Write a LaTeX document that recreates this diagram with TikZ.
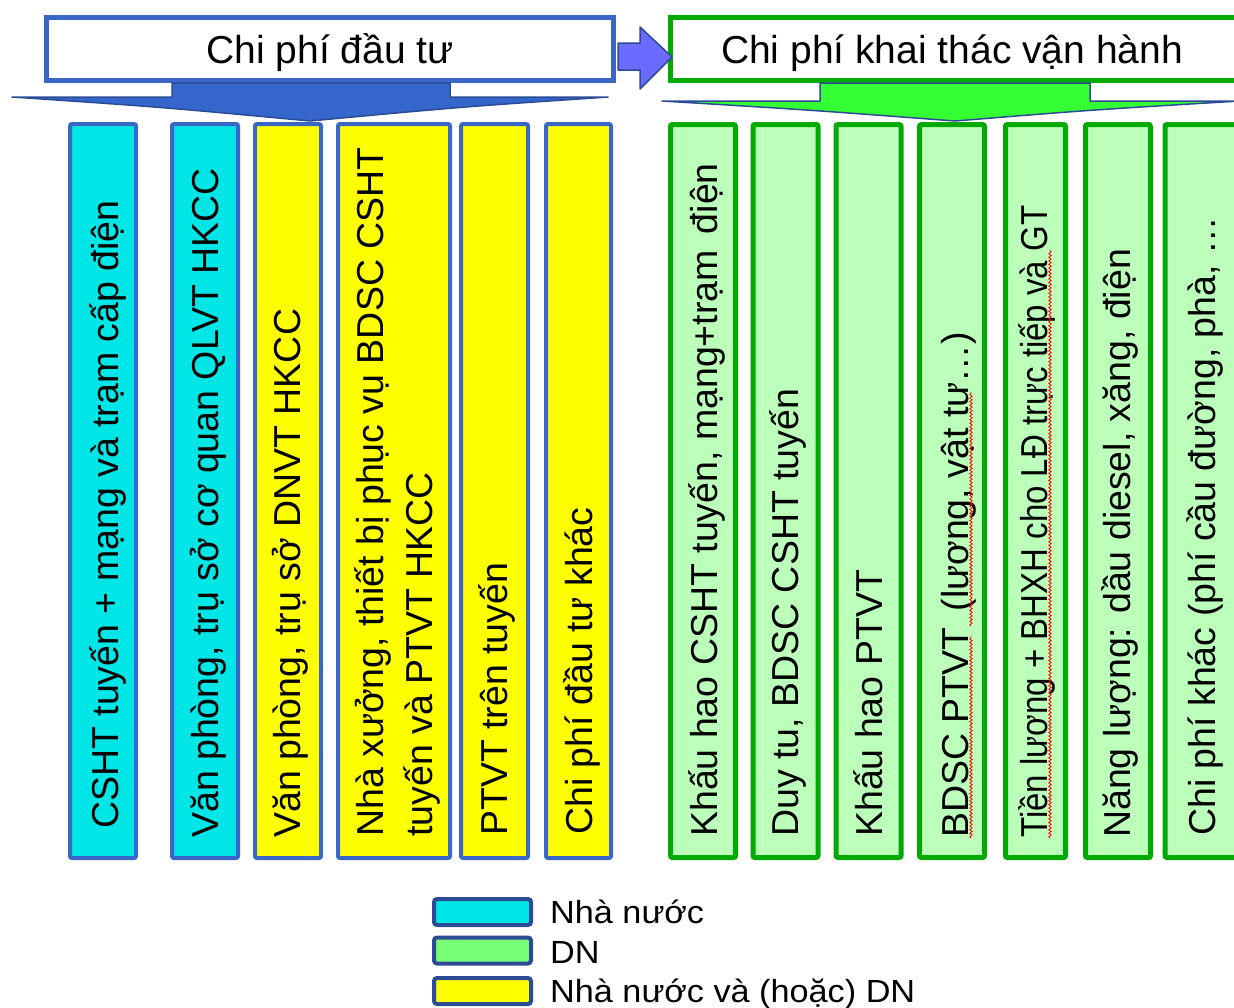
\documentclass[tikz,border=0pt]{standalone}
\usepackage{fontspec}
\setmainfont{Liberation Sans}
\usetikzlibrary{decorations.pathmorphing}

\definecolor{edgeblue}{RGB}{58,102,200}
\definecolor{edgegreen}{RGB}{0,170,0}
\definecolor{fillcyan}{RGB}{0,229,229}
\definecolor{fillyellow}{RGB}{255,255,0}
\definecolor{palegreen}{RGB}{187,255,187}
\definecolor{shaftgreen}{RGB}{51,255,51}
\definecolor{deepblue}{RGB}{43,76,148}
\definecolor{arrowblue}{RGB}{52,102,204}
\definecolor{arrowviolet}{RGB}{107,107,255}
\definecolor{keygreen}{RGB}{119,255,119}

\begin{document}
\begin{tikzpicture}[x=1pt,y=-1pt,
  colbase/.style={draw, rounded corners=2pt, inner sep=0pt},
  leftcol/.style={colbase, draw=edgeblue, line width=4pt, minimum width=66, minimum height=734},
  rightcol/.style={colbase, draw=edgegreen, fill=palegreen, line width=5pt, minimum width=65, minimum height=733},
  coltext/.style={rotate=90, anchor=base west, inner sep=0pt, align=left,
                  font=\fontsize{37.5}{49}\selectfont},
  headbox/.style={draw, fill=white, line width=5pt, minimum width=567, minimum height=63, inner sep=0pt},
  headtext/.style={anchor=base, inner sep=0pt, font=\fontsize{39}{45}\selectfont},
  wingline/.style={draw=deepblue, line width=1.5pt, line join=round},
  keybox/.style={draw=deepblue, line width=4pt, rounded corners=3pt, minimum width=97, minimum height=26, inner sep=0pt},
  keytext/.style={anchor=base west, inner sep=0pt, font=\fontsize{32}{36}\selectfont},
  spell/.style={draw=red, line width=0.8pt, decorate,
                decoration={snake, amplitude=1.2pt, segment length=3.6pt}}
]
\useasboundingbox (0,0) rectangle (1234,1007);
\clip (0,0) rectangle (1234,1007);

% ---------- investment cost columns ----------
\node[leftcol, fill=fillcyan]   (c1) at (103,491)   {};
\node[leftcol, fill=fillcyan]   (c2) at (205,491)   {};
\node[leftcol, fill=fillyellow] (c3) at (288,491)   {};
\node[leftcol, fill=fillyellow, minimum width=112] (c4) at (394,491) {};
\node[leftcol, fill=fillyellow, minimum width=67]  (c5) at (494.5,491) {};
\node[leftcol, fill=fillyellow, minimum width=65]  (c6) at (578.5,491) {};

\node[coltext] (t1) at (118,829) {CSHT tuyến + mạng và trạm cấp điện};
\node[coltext] (t2) at (218,838) {Văn phòng, trụ sở cơ quan QLVT HKCC};
\node[coltext] (t3) at (300,838) {Văn phòng, trụ sở DNVT HKCC};
\node[coltext] (t4) at (432,837) {Nhà xưởng, thiết bị phục vụ BDSC CSHT\\tuyến và PTVT HKCC};
\node[coltext] (t5) at (507,836) {PTVT trên tuyến};
\node[coltext] (t6) at (592,835) {Chi phí đầu tư khác};

% ---------- operating cost columns ----------
\node[rightcol] (c7)  at (703,491)    {};
\node[rightcol] (c8)  at (785.5,491)  {};
\node[rightcol] (c9)  at (868.5,491)  {};
\node[rightcol] (c10) at (952,491)    {};
\node[rightcol, minimum width=60] (c11) at (1035.5,491) {};
\node[rightcol] (c12) at (1118,491)   {};
\node[rightcol, minimum width=80] (c13) at (1205,491) {};

\node[coltext] (t7)  at (717,837)  {Khấu hao CSHT tuyến, mạng+trạm\hspace{0.15em} điện};
\node[coltext] (t8)  at (798,837)  {Duy tu, BDSC CSHT tuyến};
\node[coltext] (t9)  at (882,837)  {Khấu hao PTVT};
\node[coltext] (t10) at (968,838)  {BDSC PTVT\hspace{0.15em} (lương, vật tư…)};
\node[coltext] (t11) at (1047,838) {\scalebox{0.88}[1]{Tiền lương + BHXH cho LĐ trực tiếp và GT}};
\node[coltext] (t12) at (1130,838) {Năng lượng: dầu diesel, xăng, điện};
\node[coltext] (t13) at (1215,836) {Chi phí khác (phí cầu đường, phà, …};

% spelling marks under the operating cost labels
\draw[spell] (971,838) -- (971,636);
\draw[spell] (971,626) -- (971,392);
\draw[spell] (1050,838) -- (1050,250);

% ---------- headers ----------
\node[headbox, draw=edgeblue]  (hL) at (330,49) {};
\node[headbox, draw=edgegreen] (hR) at (954,49) {};
\node[headtext] (hLt) at (330,63) {Chi phí đầu tư};
\node[headtext] (hRt) at (952,63) {Chi phí khai thác vận hành};

% arrow from investment to operation
\draw[wingline, fill=arrowviolet]
  (618,43) -- (640,43) -- (640,27) -- (672,57) -- (640,89) -- (640,70) -- (618,70) -- cycle;

% down arrows under the headers
\draw[wingline, fill=arrowblue]
  (172,83) -- (450,83) -- (450,97) -- (608,97)
  .. controls (460,107) .. (310,121)
  .. controls (160,107) .. (12,97) -- (172,97) -- cycle;
\draw[wingline, fill=shaftgreen]
  (820,83) -- (1090,83) -- (1090,101) -- (1240,101)
  .. controls (1090,110) .. (955,121)
  .. controls (810,110) .. (662,101) -- (820,101) -- cycle;

% ---------- key ----------
\node[keybox, fill=fillcyan]   (k1) at (482.5,912)   {};
\node[keybox, fill=keygreen]   (k2) at (482.5,950.5) {};
\node[keybox, fill=fillyellow] (k3) at (482.5,991)   {};
\node[keytext] (k1t) at (550,923)  {\scalebox{1.07}[1]{Nhà nước}};
\node[keytext] (k2t) at (550,963)  {\scalebox{1.07}[1]{DN}};
\node[keytext] (k3t) at (550,1002) {\scalebox{1.07}[1]{Nhà nước và (hoặc) DN}};
\end{tikzpicture}
\end{document}
